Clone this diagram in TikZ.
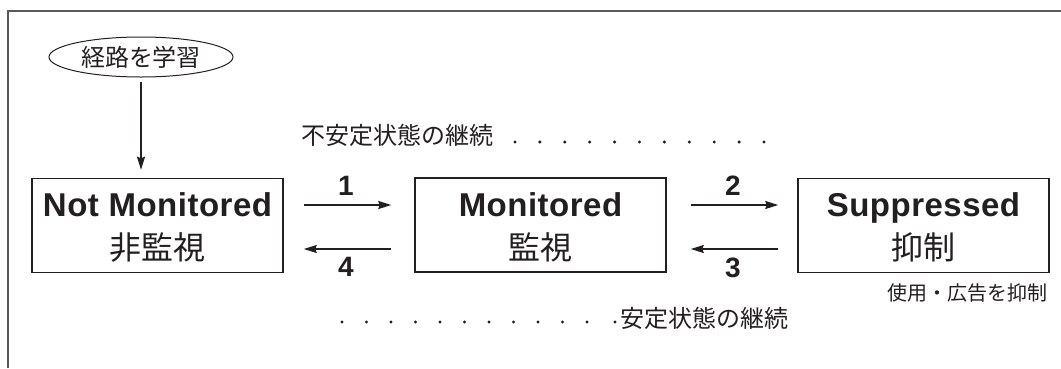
\documentclass[tikz,border=0pt]{standalone}
\usepackage{fontspec}
\setmainfont{Liberation Sans}
\newfontfamily\enwide{Liberation Sans}[LetterSpace=1.5]
\newfontfamily\cjk{Noto Sans CJK JP}
\usetikzlibrary{shapes.geometric,arrows.meta}
\definecolor{ink}{HTML}{231F20}
\definecolor{framegray}{HTML}{5A5A5A}
\begin{document}
\begin{tikzpicture}[x=1pt,y=-1pt,
  statebox/.style={draw=ink, line width=1.5pt, minimum width=251pt, minimum height=94pt, inner sep=0pt},
  entxt/.style={text=ink, inner sep=0pt, anchor=base, font=\fontsize{33}{36}\selectfont\enwide\bfseries},
  jptxt/.style={text=ink, inner sep=0pt, anchor=base, font=\fontsize{32}{36}\selectfont\cjk},
  numtxt/.style={text=ink, inner sep=0pt, font=\fontsize{28}{30}\selectfont\bfseries},
  note/.style={text=ink, inner sep=0pt, font=\fontsize{24}{28}\selectfont\cjk},
  arr/.style={draw=ink, line width=1.4pt, -{Stealth[length=13pt,width=8pt,inset=1.5pt]}},
  dot/.style={fill=ink}
]
\useasboundingbox (0,0) rectangle (1061,368);
% frame
\draw[framegray, line width=2.5pt] (8,368) -- (8,11) -- (1061,11);

% start ellipse
\node[ellipse, draw=ink, line width=1pt, minimum width=184pt, minimum height=40pt, inner sep=0pt,
      text=ink, font=\fontsize{24}{28}\selectfont\cjk] (learn) at (141,57) {経路を学習};

% state boxes
\node[statebox] (box1) at (157.5,225.5) {};
\node[statebox] (box2) at (540.5,225) {};
\node[statebox] (box3) at (923.5,225.5) {};

\node[entxt] (t1a) at (157.5,216) {Not Monitored};
\node[jptxt] (t1b) at (157.5,259) {非監視};
\node[entxt] (t2a) at (540.5,216) {Monitored};
\node[jptxt] (t2b) at (540.5,259) {監視};
\node[entxt] (t3a) at (923.5,216) {Suppressed};
\node[jptxt] (t3b) at (923.5,259) {抑制};

% entry arrow
\draw[arr] ([yshift=-4pt]learn.south) -- ([yshift=8pt]learn.south |- box1.north);

% transitions
\draw[arr] ([xshift=20pt,yshift=20.5pt]box1.east) -- ([xshift=-23pt,yshift=20pt]box2.west);
\draw[arr] ([xshift=-23pt,yshift=-24pt]box2.west) -- ([xshift=20pt,yshift=-23.5pt]box1.east);
\draw[arr] ([xshift=24pt,yshift=20pt]box2.east) -- ([xshift=-19pt,yshift=20.5pt]box3.west);
\draw[arr] ([xshift=-19pt,yshift=-23.5pt]box3.west) -- ([xshift=24pt,yshift=-24pt]box2.east);

\node[numtxt] (n1) at (346,186) {1};
\node[numtxt] (n4) at (346,267) {4};
\node[numtxt] (n2) at (733,186) {2};
\node[numtxt] (n3) at (733,268) {3};

% notes
\node[note, anchor=west] (unstable) at (301,135) {不安定状態の継続};
\foreach \k in {0,...,10} \fill[dot] (515+24.9*\k,142) circle (1.7pt);
\foreach \k in {0,...,10} \fill[dot] (342+24.5*\k,322) circle (1.7pt);
\fill[dot] (615,322) circle (1.7pt);
\node[note, anchor=west] (stable) at (620,318) {安定状態の継続};
\node[note, anchor=east, font=\fontsize{20}{24}\selectfont\cjk] (supnote) at (1048,293) {使用・広告を抑制};
\end{tikzpicture}
\end{document}
